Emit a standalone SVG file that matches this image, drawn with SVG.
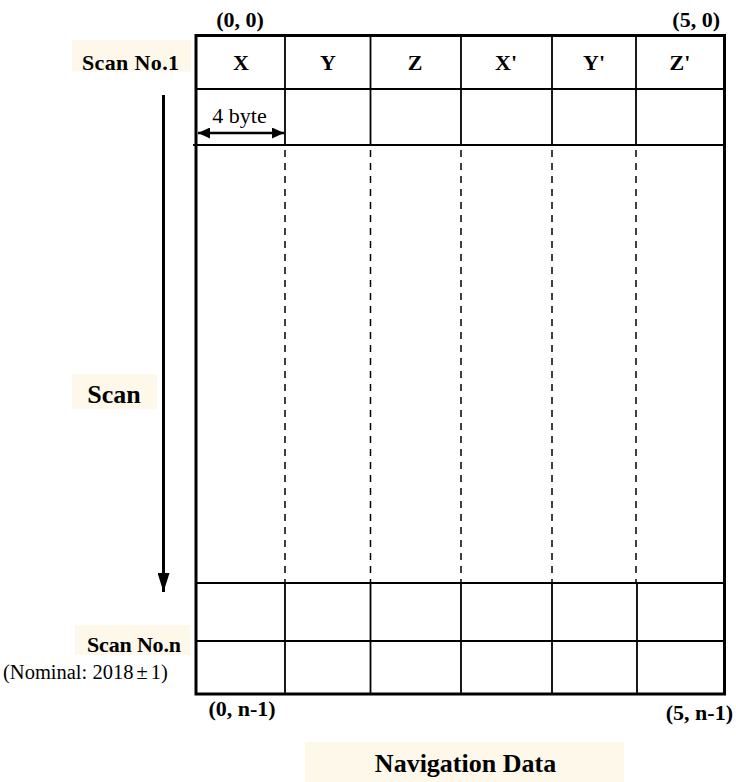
<svg xmlns="http://www.w3.org/2000/svg" width="736" height="782" viewBox="0 0 736 782">
<defs>
<style>
.b{font-family:"Liberation Serif","Times New Roman",serif;font-weight:bold;fill:#000}
.r{font-family:"Liberation Serif","Times New Roman",serif;fill:#000}
.bg{fill:#fdf8ea}
.thin{stroke:#000;stroke-width:1.8;fill:none}
.dash{stroke:#000;stroke-width:1.5;stroke-dasharray:7,6;fill:none}
</style>
<marker id="ah" viewBox="0 0 12 11" refX="12" refY="5.5" markerWidth="12" markerHeight="11" markerUnits="userSpaceOnUse" orient="auto-start-reverse">
<path d="M0,0 L12,5.5 L0,11 z" fill="#000"/>
</marker>
<marker id="ah2" viewBox="0 0 19 12" refX="19" refY="6" markerWidth="19" markerHeight="12" markerUnits="userSpaceOnUse" orient="auto">
<path d="M0,0 L19,6 L0,12 z" fill="#000"/>
</marker>
</defs>
<g id="table">
<rect x="196" y="35.5" width="528.5" height="658.5" fill="#fff" stroke="#000" stroke-width="3"/>
<line class="thin" x1="196" y1="89" x2="724" y2="89"/>
<line class="thin" x1="193" y1="145" x2="724" y2="145"/>
<line class="thin" x1="196" y1="583" x2="724" y2="583"/>
<line class="thin" x1="196" y1="641" x2="724" y2="641"/>
<g>
<line class="thin" x1="285" y1="35" x2="285" y2="145"/>
<line class="thin" x1="370.5" y1="35" x2="370.5" y2="145"/>
<line class="thin" x1="461" y1="35" x2="461" y2="145"/>
<line class="thin" x1="552" y1="35" x2="552" y2="145"/>
<line class="thin" x1="636" y1="35" x2="636" y2="145"/>
<line class="thin" x1="285" y1="583" x2="285" y2="694"/>
<line class="thin" x1="370.5" y1="583" x2="370.5" y2="694"/>
<line class="thin" x1="461" y1="583" x2="461" y2="694"/>
<line class="thin" x1="552" y1="583" x2="552" y2="694"/>
<line class="thin" x1="637" y1="583" x2="637" y2="694"/>
</g>
<g>
<line class="dash" x1="285" y1="150" x2="285" y2="583"/>
<line class="dash" x1="370.5" y1="150" x2="370.5" y2="583"/>
<line class="dash" x1="461" y1="150" x2="461" y2="583"/>
<line class="dash" x1="552" y1="150" x2="552" y2="583"/>
<line class="dash" x1="636" y1="150" x2="636" y2="583"/>
</g>
<g font-size="22" text-anchor="middle">
<text class="b" x="241" y="70">X</text>
<text class="b" x="328" y="70">Y</text>
<text class="b" x="415" y="70">Z</text>
<text class="b" x="506" y="70">X'</text>
<text class="b" x="594" y="70">Y'</text>
<text class="b" x="680" y="70">Z'</text>
</g>
</g>
<g id="coords" font-size="22">
<text class="b" x="240" y="27" text-anchor="middle">(0, 0)</text>
<text class="b" x="720" y="27" text-anchor="end">(5, 0)</text>
<text class="b" x="242" y="716" text-anchor="middle">(0, n-1)</text>
<text class="b" x="733" y="720" text-anchor="end">(5, n-1)</text>
</g>
<g id="scan-no1">
<rect class="bg" x="72" y="40" width="119" height="31.5"/>
<text class="b" x="82" y="69.5" font-size="22" textLength="97">Scan No.1</text>
</g>
<g id="scan-label">
<rect class="bg" x="72" y="374" width="85" height="35"/>
<text class="b" x="114" y="403" font-size="26" text-anchor="middle">Scan</text>
</g>
<g id="scan-non">
<rect class="bg" x="75" y="625" width="115" height="30"/>
<text class="b" x="87" y="651.5" font-size="22" textLength="94">Scan No.n</text>
</g>
<text id="nominal" class="r" x="3" y="679" font-size="20.5">(Nominal: 2018<tspan dx="3">±</tspan><tspan dx="3">1)</tspan></text>
<g id="byte-label">
<text class="r" x="239.5" y="123" font-size="22" text-anchor="middle">4 byte</text>
</g>
<g id="nav">
<rect class="bg" x="305" y="742" width="319" height="40"/>
<text class="b" x="465.5" y="772" font-size="26" text-anchor="middle">Navigation Data</text>
</g>
<g id="connectors">
<line x1="198" y1="133" x2="284" y2="133" stroke="#000" stroke-width="2.5" marker-start="url(#ah)" marker-end="url(#ah)"/>
<line x1="163.5" y1="95" x2="163.5" y2="592" stroke="#000" stroke-width="3" marker-end="url(#ah2)"/>
</g>
</svg>
